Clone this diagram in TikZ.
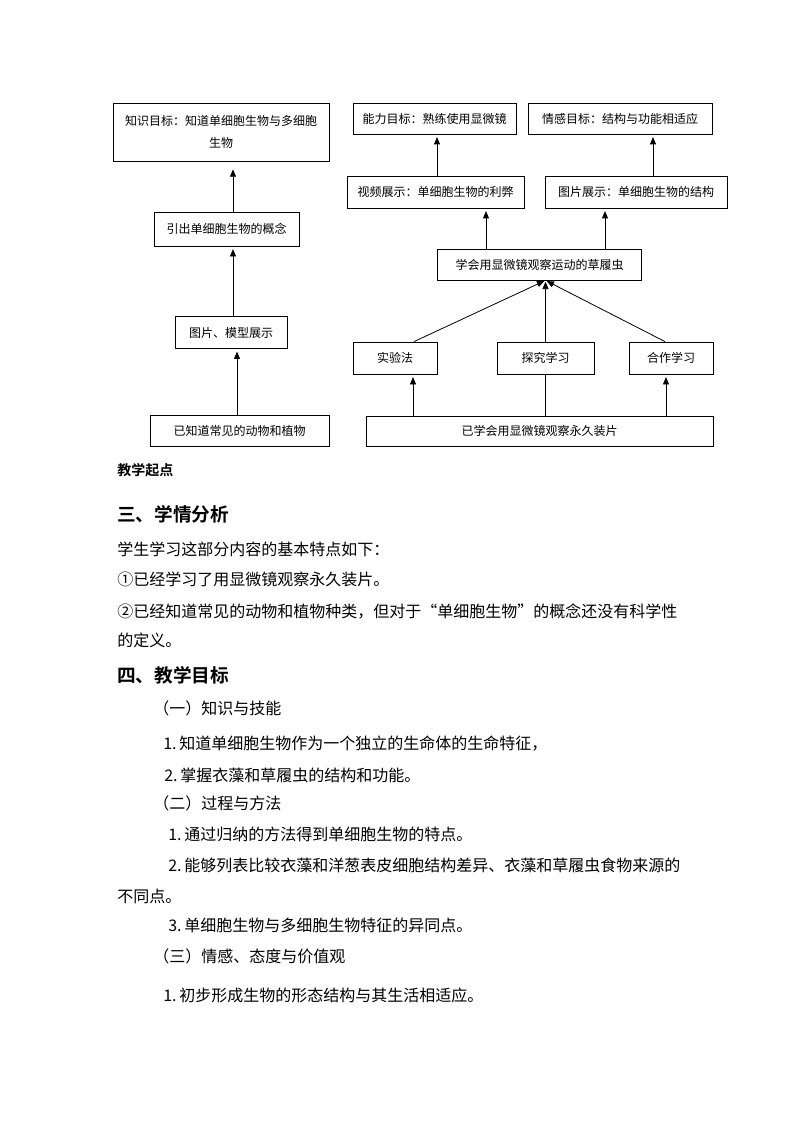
\documentclass[tikz,border=0pt]{standalone}
\usepackage{fontspec}
\setmainfont{Noto Sans CJK SC}[BoldFont={Noto Sans CJK SC Bold}]
\usepackage{tikz}
\usetikzlibrary{arrows.meta}
\newcommand{\num}[1]{\makebox[12pt][l]{#1}}

\begin{document}
\begin{tikzpicture}[x=0.75pt, y=-0.75pt,
    box/.style={draw, line width=0.6pt, inner sep=0pt, align=center,
        font=\fontsize{9}{16.5}\selectfont},
    sz/.style 2 args={minimum width=#1*0.75pt, minimum height=#2*0.75pt},
    arr/.style={-{Triangle[width=4.5pt,length=5.5pt]}, line width=0.6pt, shorten >=2pt},
    txt/.style={anchor=west, inner sep=0pt, font=\fontsize{12}{16}\selectfont},
    head/.style={anchor=west, inner sep=0pt, font=\fontsize{14}{18}\selectfont\bfseries}]
    \useasboundingbox (0,0) rectangle (794,1123);

    % Left column
    \node[box, sz={216}{58}] (zsmb) at (221,132) {知识目标：知道单细胞生物与多细胞\\生物};
    \node[box, sz={145}{34}] (yc) at (226.5,229) {引出单细胞生物的概念};
    \node[box, sz={112}{32}] (tpmx) at (231,332.5) {图片、模型展示};
    \node[box, sz={179}{31}] (yzd) at (239.5,430.5) {已知道常见的动物和植物};

    \draw[arr, shorten >=6pt] (yc.north -| 233,0) -- (zsmb.south -| 233,0);
    \draw[arr] (tpmx.north -| 233,0) -- (yc.south -| 233,0);
    \draw[arr] (yzd.north -| 237,0) -- (tpmx.south -| 237,0);

    % Goals
    \node[box, sz={163}{31}] (nlmb) at (434.5,118.5) {能力目标：熟练使用显微镜};
    \node[box, sz={184}{31}] (qgmb) at (620,118.5) {情感目标：结构与功能相适应};

    % Presentations
    \node[box, sz={177}{32}] (spzs) at (435.5,192) {视频展示：单细胞生物的利弊};
    \node[box, sz={182}{32}] (tpzs) at (636,192) {图片展示：单细胞生物的结构};

    \draw[arr] (spzs.north -| 437,0) -- (nlmb.south -| 437,0);
    \draw[arr] (tpzs.north -| 653,0) -- (qgmb.south -| 653,0);

    % Observing paramecium
    \node[box, sz={204}{31}] (xhy) at (539.5,264.5) {学会用显微镜观察运动的草履虫};

    \draw[arr] (xhy.north -| 486,0) -- (spzs.south -| 486,0);
    \draw[arr] (xhy.north -| 605,0) -- (tpzs.south -| 605,0);

    % Methods
    \node[box, sz={84}{32}] (syf) at (395,358) {实验法};
    \node[box, sz={97}{32}] (tjxx) at (545.5,358) {探究学习};
    \node[box, sz={84}{32}] (hzxx) at (671,358) {合作学习};

    \draw[arr, shorten >=1pt] (syf.north -| 414,0) -- (xhy.south -| tjxx.north);
    \draw[arr, shorten >=1pt] (tjxx.north) -- (xhy.south -| tjxx.north);
    \draw[arr, shorten >=1pt] (hzxx.north -| 665,0) -- (xhy.south -| tjxx.north);

    % Starting point
    \node[box, sz={347}{30}] (yxh) at (539.5,431) {已学会用显微镜观察永久装片};

    \draw[arr] (yxh.north -| 413,0) -- (syf.south -| 413,0);
    \draw[line width=0.6pt] (yxh.north -| tjxx.south) -- (tjxx.south);
    \draw[arr] (yxh.north -| 666,0) -- (hzxx.south -| 666,0);

    % Text below
    \node[anchor=west, inner sep=0pt, font=\fontsize{10.5}{14}\selectfont\bfseries] (qd) at (117,470) {教学起点};
    \node[head] (h3) at (117,514) {三、学情分析};
    \node[txt] (t1) at (117,549) {学生学习这部分内容的基本特点如下：};
    \node[txt] (t2) at (117,579) {①已经学习了用显微镜观察永久装片。};
    \node[txt] (t3) at (117,611) {②已经知道常见的动物和植物种类，但对于“单细胞生物”的概念还没有科学性};
    \node[txt] (t4) at (117,640) {的定义。};
    \node[head] (h4) at (117,675) {四、教学目标};
    \node[txt] (s1) at (153,708) {（一）知识与技能};
    \node[txt] (s1a) at (163,744) {\num{1.}知道单细胞生物作为一个独立的生命体的生命特征，};
    \node[txt] (s1b) at (164,775) {\num{2.}掌握衣藻和草履虫的结构和功能。};
    \node[txt] (s2) at (153,803) {（二）过程与方法};
    \node[txt] (s2a) at (168,834) {\num{1.}通过归纳的方法得到单细胞生物的特点。};
    \node[txt] (s2b) at (168,865) {\num{2.}能够列表比较衣藻和洋葱表皮细胞结构差异、衣藻和草履虫食物来源的};
    \node[txt] (s2c) at (117,896) {不同点。};
    \node[txt] (s2d) at (168,925) {\num{3.}单细胞生物与多细胞生物特征的异同点。};
    \node[txt] (s3) at (153,956) {（三）情感、态度与价值观};
    \node[txt] (s3a) at (163,995) {\num{1.}初步形成生物的形态结构与其生活相适应。};
\end{tikzpicture}
\end{document}
